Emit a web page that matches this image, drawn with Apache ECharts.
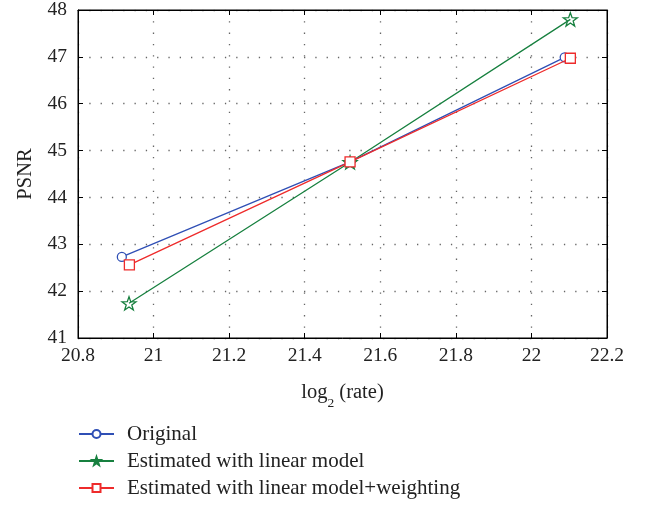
<!DOCTYPE html>
<html>
<head>
<meta charset="utf-8">
<script src="https://cdn.jsdelivr.net/npm/echarts@6/dist/echarts.min.js"></script>
<style>html,body{margin:0;padding:0;background:#fff}#c{width:647px;height:505px}</style>
</head>
<body>
<div id="c"></div>
<script>
const seriesNames = ['Original', 'Estimated with linear model', 'Estimated with linear model+weighting'];
const originalX = [20.916, 21.52, 22.088];
const originalY = [42.73, 44.76, 46.99];
const linearX = [20.935, 21.52, 22.103];
const linearY = [41.74, 44.75, 47.80];
const weightedX = [20.936, 21.52, 22.103];
const weightedY = [42.56, 44.76, 46.97];
const xTicks = [20.8, 21, 21.2, 21.4, 21.6, 21.8, 22, 22.2];
const yTicks = [41, 42, 43, 44, 45, 46, 47, 48];

const FONT = '"Liberation Serif", "DejaVu Serif", serif';
const FS = 19.5;
const starPath = 'path://M0,-10 L2.35,-3.24 L9.51,-3.09 L3.80,1.24 L5.88,8.09 L0,4 L-5.88,8.09 L-3.80,1.24 L-9.51,-3.09 L-2.35,-3.24 Z';
const colors = ['#2f4fb5', '#17803f', '#ee2b2b'];

function pairs(xs, ys) { return xs.map((x, i) => [x, ys[i]]); }

const gridLine = { show: true, lineStyle: { color: '#666', width: 1.3, type: [1.3, 10] } };
const xBase = { type: 'value', min: xTicks[0], max: xTicks[xTicks.length - 1], interval: 0.2 };
const yBase = { type: 'value', min: yTicks[0], max: yTicks[yTicks.length - 1], interval: 1 };

const chart = echarts.init(document.getElementById('c'));
chart.setOption({
  animation: false,
  backgroundColor: '#fff',
  grid: { left: 78, right: 40, top: 10, bottom: 167, show: true, borderColor: '#000', borderWidth: 1 },
  xAxis: [
    Object.assign({}, xBase, {
      position: 'bottom',
      axisLine: { show: true, lineStyle: { color: '#000', width: 1 } },
      axisTick: { show: true, inside: true, length: 5, lineStyle: { color: '#000' } },
      axisLabel: { color: '#222', fontFamily: FONT, fontSize: FS, margin: 8,
        formatter: v => String(parseFloat(v.toFixed(1))) },
      splitLine: gridLine,
      name: '{a|log}{s|2}{a| (rate)}',
      nameLocation: 'middle', nameGap: 44,
      nameTextStyle: { rich: {
        a: { fontFamily: FONT, fontSize: 20.5, color: '#222' },
        s: { fontFamily: FONT, fontSize: 13.5, color: '#222', verticalAlign: 'bottom', padding: [0, 0, -7, 0] } } }
    }),
    Object.assign({}, xBase, {
      position: 'top',
      axisLine: { show: true, lineStyle: { color: '#000' } },
      axisTick: { show: true, inside: true, length: 5, lineStyle: { color: '#000' } },
      axisLabel: { show: false }, splitLine: { show: false }
    })
  ],
  yAxis: [
    Object.assign({}, yBase, {
      position: 'left',
      axisLine: { show: true, lineStyle: { color: '#000', width: 1 } },
      axisTick: { show: true, inside: true, length: 5, lineStyle: { color: '#000' } },
      axisLabel: { color: '#222', fontFamily: FONT, fontSize: FS, margin: 11 },
      splitLine: gridLine,
      name: 'PSNR', nameLocation: 'middle', nameGap: 40, nameRotate: 90,
      nameTextStyle: { fontFamily: FONT, fontSize: 20.5, color: '#222' }
    }),
    Object.assign({}, yBase, {
      position: 'right',
      axisLine: { show: true, lineStyle: { color: '#000' } },
      axisTick: { show: true, inside: true, length: 5, lineStyle: { color: '#000' } },
      axisLabel: { show: false }, splitLine: { show: false }
    })
  ],
  legend: {
    orient: 'vertical', left: 78, top: 423, height: 120, padding: 0, itemGap: 5, itemWidth: 35, itemHeight: 10,
    textStyle: { fontFamily: FONT, fontSize: 21, color: '#222', lineHeight: 22, padding: [0, 0, 0, 8] },
    data: [
      { name: seriesNames[0] },
      { name: seriesNames[1], itemStyle: { color: colors[1], borderColor: colors[1] } },
      { name: seriesNames[2] }
    ]
  },
  series: [
    { name: seriesNames[0], type: 'line', data: pairs(originalX, originalY),
      symbol: 'circle', symbolSize: 9, color: colors[0],
      lineStyle: { width: 1.3, color: colors[0] },
      itemStyle: { color: '#fff', borderColor: colors[0], borderWidth: 1.3 }, z: 3 },
    { name: seriesNames[1], type: 'line', data: pairs(linearX, linearY),
      symbol: starPath, symbolSize: 14, symbolKeepAspect: true, color: colors[1],
      lineStyle: { width: 1.3, color: colors[1] },
      itemStyle: { color: 'rgba(255,255,255,0)', borderColor: colors[1], borderWidth: 1.3 }, z: 2 },
    { name: seriesNames[2], type: 'line', data: pairs(weightedX, weightedY),
      symbol: 'rect', symbolSize: 10, color: colors[2],
      lineStyle: { width: 1.3, color: colors[2] },
      itemStyle: { color: '#fff', borderColor: colors[2], borderWidth: 1.3 }, z: 4 }
  ]
});
</script>
</body>
</html>
